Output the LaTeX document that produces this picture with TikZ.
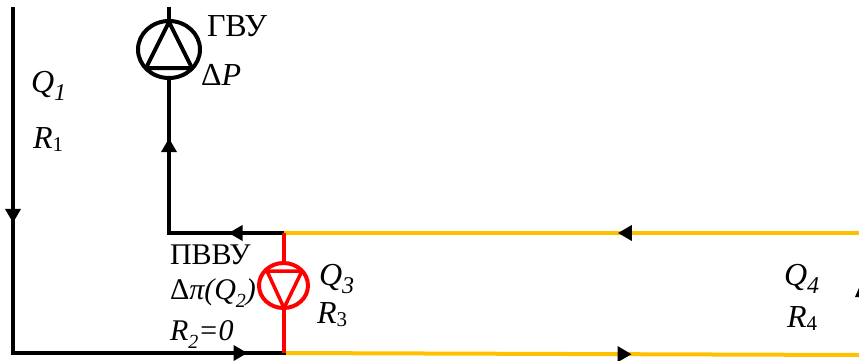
\documentclass[tikz,border=0pt]{standalone}
\usepackage{fontspec}
\setmainfont{Liberation Serif}
\usetikzlibrary{arrows.meta,decorations.markings,shapes.geometric}
\definecolor{pipeyellow}{RGB}{255,192,0}
\definecolor{pipered}{RGB}{255,0,0}
\newcommand{\subs}[1]{\raisebox{-8pt}{\fontsize{24}{25}\selectfont #1}}
\newcommand{\subt}[1]{\raisebox{-8pt}{\fontsize{20}{21}\selectfont #1}}
\newcommand{\subr}[1]{\raisebox{-3pt}{\fontsize{21}{22}\selectfont #1}}
\tikzset{
  x=1pt,y=-1pt,
  lbl/.style={anchor=base west,inner sep=0pt,outer sep=0pt,font=\fontsize{32}{34}\selectfont},
  lbls/.style={lbl,font=\fontsize{30}{32}\selectfont},
  blackpipe/.style={draw=black,line width=4pt},
  yellowpipe/.style={draw=pipeyellow,line width=4pt},
  redpipe/.style={draw=pipered,line width=4pt},
  pump/.style={ellipse,draw,line width=4pt,inner sep=0pt,fill=none},
  flow/.style={postaction={decorate},decoration={markings,mark=at position #1 with {\arrow[black]{Triangle[length=14pt,width=15pt]}}}}
}
\begin{document}
\begin{tikzpicture}
\useasboundingbox (0,0) rectangle (859,360);
\clip (0,0) rectangle (859,360);
\coordinate (ltop) at (13,7);
\coordinate (lcorner) at (13,353);
\coordinate (botj) at (283.5,353);
\coordinate (topj) at (283.5,233);
\coordinate (ucorner) at (169,233);
\coordinate (gtop) at (169,7);
\coordinate (rtop) at (859,233);
\coordinate (rbot) at (859,355);
\node[pump,minimum width=62pt,minimum height=57pt] (gvu) at (169,49.5) {};
\node[pump,minimum width=49pt,minimum height=45pt,draw=pipered] (pvvu) at (283.5,285.5) {};
% pipes
\draw[yellowpipe,flow=0.419] (rtop) -- (topj);
\draw[yellowpipe,flow=0.605] (botj) -- (rbot);
\draw[blackpipe,flow=0.624] (ltop) -- (lcorner);
\draw[blackpipe,flow=0.867,line cap=rect] (lcorner) -- (botj);
\draw[blackpipe,flow=0.48] (topj) -- (ucorner);
\draw[blackpipe,flow=0.62,line cap=rect] (ucorner) -- (gvu.south);
\draw[blackpipe] (gtop) -- (gvu.north);
\draw[redpipe] (topj) -- (pvvu.north);
\draw[redpipe] (pvvu.south) -- (botj);
% pump triangles
\draw[black,line width=4pt,line join=round] (169,22) -- (146,68) -- (192,68) -- cycle;
\draw[pipered,line width=3.5pt,line join=round] (284,308) -- (267,271) -- (302,271) -- cycle;
% partial arrowhead at right edge
\fill[black] (862,281) -- (855,297) -- (869,297) -- cycle;
% labels
\node[lbl] (tgvu) at (207,36) {ГВУ};
\node[lbl] (tdp) at (201,85) {Δ\textit{P}};
\node[lbl] (tq1) at (31,92) {\textit{Q\subs{1}}};
\node[lbl] (tr1) at (33,148) {\textit{R}\subr{1}};
\node[lbls] (tpv) at (170,264) {ПВВУ};
\node[lbls] (tdpi) at (170,299) {Δ\textit{π(Q\subt{2})}};
\node[lbls] (tr2) at (170,340) {\textit{R\subt{2}=0}};
\node[lbl] (tq3) at (319,285) {\textit{Q\subs{3}}};
\node[lbl] (tr3) at (317,323) {\textit{R}\subr{3}};
\node[lbl] (tq4) at (784,285) {\textit{Q\subs{4}}};
\node[lbl] (tr4) at (787,327) {\textit{R}\subr{4}};
\end{tikzpicture}
\end{document}
